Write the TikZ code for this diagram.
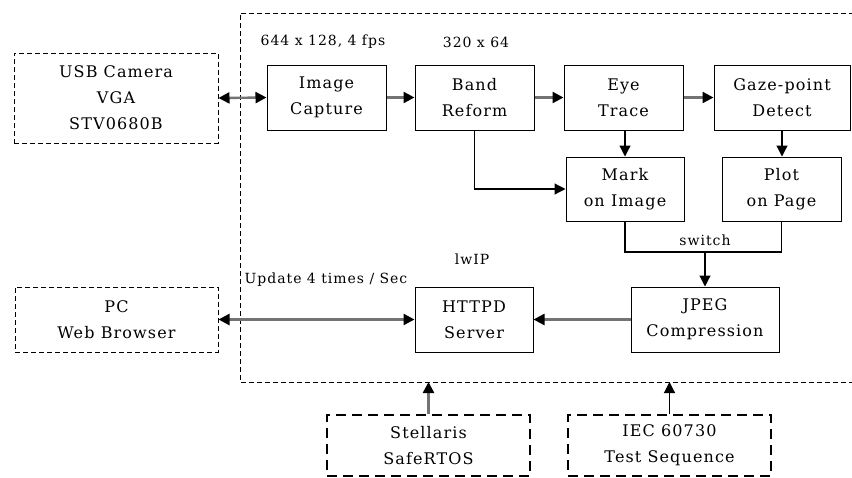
\documentclass[tikz,border=0pt]{standalone}
\usepackage{fontspec}
\setmainfont{DejaVu Serif}[LetterSpace=7]
\usetikzlibrary{arrows.meta}
\begin{document}
\begin{tikzpicture}[x=1pt,y=-1pt,
  blk/.style={draw=black,line width=1pt,minimum width=#1,inner sep=0pt,align=center,font=\fontsize{16}{26}\selectfont},
  ext/.style={draw=black,line width=1pt,dash pattern=on 5pt off 3pt,inner sep=0pt,align=center,font=\fontsize{16}{26}\selectfont},
  extb/.style={draw=black,line width=2pt,dash pattern=on 10pt off 6pt,inner sep=0pt,align=center,font=\fontsize{16}{26}\selectfont},
  lbl/.style={font=\fontsize{14}{16}\selectfont,inner sep=0pt},
  garr/.style={draw=black!55,line width=2.4pt,-{Triangle[length=11pt,width=11pt,color=black]}},
  gdarr/.style={draw=black!55,line width=2.4pt,{Triangle[length=11pt,width=11pt,color=black]}-{Triangle[length=11pt,width=11pt,color=black]}},
  barr/.style={draw=black,line width=1.2pt,-{Triangle[length=11pt,width=11pt]}},
  bline/.style={draw=black,line width=1.2pt}
]
\useasboundingbox (0,0) rectangle (852,477);
\fill[white] (0,0) rectangle (852,477);
% enclosing dashed frame (open on the right)
\draw[line width=1pt,dash pattern=on 5pt off 3pt] (870,13) -- (240,13) -- (240,382) -- (870,382);

\node[ext,minimum width=204pt,minimum height=90pt] (usb) at (116,98) {USB Camera\\VGA\\STV0680B};
\node[ext,minimum width=203pt,minimum height=65pt] (pc) at (116.5,319.5) {PC\\Web Browser};
\node[extb,minimum width=203pt,minimum height=61pt] (stel) at (428.5,445.5) {Stellaris\\SafeRTOS};
\node[extb,minimum width=203pt,minimum height=61pt] (iec) at (669.5,445.5) {IEC 60730\\Test Sequence};

\node[blk=119pt,minimum height=65pt] (cap) at (326.5,97.5) {Image\\Capture};
\node[blk=119pt,minimum height=65pt] (band) at (474.5,97.5) {Band\\Reform};
\node[blk=119pt,minimum height=65pt] (eye) at (623.5,97.5) {Eye\\Trace};
\node[blk=136pt,minimum height=65pt] (gaze) at (782,97.5) {Gaze-point\\Detect};
\node[blk=118pt,minimum height=64pt] (mark) at (625,189) {Mark\\on Image};
\node[blk=119pt,minimum height=64pt] (plot) at (781.5,189) {Plot\\on Page};
\node[blk=118pt,minimum height=65pt] (httpd) at (474,319.5) {HTTPD\\Server};
\node[blk=148pt,minimum height=65pt] (jpeg) at (705,319.5) {JPEG\\Compression};

\node[lbl] (l1) at (323,42) {644 x 128, 4 fps};
\node[lbl] (l2) at (476,42) {320 x 64};
\node[lbl] (l3) at (472,259) {lwIP};
\node[lbl] (l4) at (326,280) {Update 4 times / Sec};
\node[lbl] (l5) at (705,240) {switch};

\coordinate (sw) at (705,252);
\coordinate (f1) at (stel.north |- 0,382);
\coordinate (f2) at (iec.north |- 0,382);

\draw[gdarr] (usb.east) -- (cap.west);
\draw[garr] (cap.east) -- (band.west);
\draw[garr] (band.east) -- (eye.west);
\draw[garr] (eye.east) -- (gaze.west);
\draw[barr] (eye.south -| mark.north) -- (mark.north);
\draw[barr] (gaze.south) -- (gaze.south |- plot.north);
\draw[barr] (band.south) |- (mark.west);
\draw[bline] (mark.south) |- (sw) -| (plot.south);
\draw[barr] (sw) -- (jpeg.north);
\draw[garr] (jpeg.west) -- (httpd.east);
\draw[gdarr] (pc.east) -- (httpd.west);
\draw[garr] (stel.north) -- (f1);
\draw[barr] (iec.north) -- (f2);
\end{tikzpicture}
\end{document}
